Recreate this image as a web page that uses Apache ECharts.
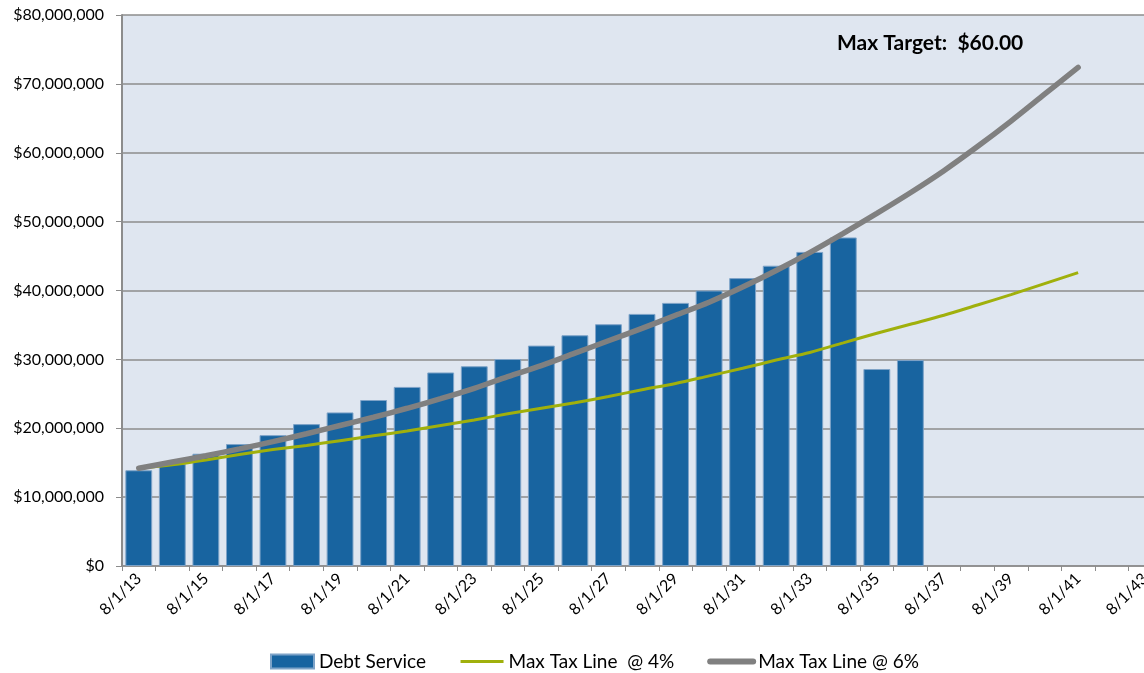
<!DOCTYPE html>
<html>
<head>
<meta charset="UTF-8"/>
<title>Debt Service vs Max Tax Line</title>
<script src="https://cdn.jsdelivr.net/npm/echarts@6/dist/echarts.min.js"></script>
<style>
  html, body { margin: 0; padding: 0; background: #fff; }
  #chart { width: 1144px; height: 673px; }
</style>
</head>
<body>
<div id="chart"></div>
<script>
// fiscal years, 8/1/13 .. 8/1/43
var categories = ['8/1/13','8/1/14','8/1/15','8/1/16','8/1/17','8/1/18','8/1/19','8/1/20',
  '8/1/21','8/1/22','8/1/23','8/1/24','8/1/25','8/1/26','8/1/27','8/1/28','8/1/29','8/1/30',
  '8/1/31','8/1/32','8/1/33','8/1/34','8/1/35','8/1/36','8/1/37','8/1/38','8/1/39','8/1/40',
  '8/1/41','8/1/42','8/1/43'];

// values in millions of dollars
var debtService = [13.9, 14.8, 16.3, 17.7, 19.0, 20.6, 22.3, 24.1, 26.0, 28.1, 29.0, 30.05,
  32.0, 33.5, 35.1, 36.6, 38.2, 40.0, 41.8, 43.6, 45.6, 47.7, 28.6, 29.9];

var maxTax4 = [14.2, 14.7, 15.4, 16.2, 16.9, 17.5, 18.2, 18.9, 19.6, 20.4, 21.2, 22.1, 22.9,
  23.7, 24.6, 25.6, 26.5, 27.6, 28.7, 29.9, 31.0, 32.4, 33.8, 35.1, 36.4, 37.9, 39.4, 41.0, 42.6];

var maxTax6 = [14.2, 15.1, 16.0, 17.0, 18.05, 19.2, 20.4, 21.6, 22.9, 24.3, 25.8, 27.5, 29.1,
  30.9, 32.7, 34.5, 36.4, 38.3, 40.5, 42.9, 45.5, 48.3, 51.2, 54.2, 57.4, 60.9, 64.6, 68.5, 72.4];

var toDollars = function (arr) {
    return arr.map(function (v) { return Math.round(v * 1e6); });
};

var fontFam = 'Lato, "Open Sans", sans-serif';

var myChart = echarts.init(document.getElementById('chart'));

var option = {
    backgroundColor: '#ffffff',
    animation: false,
    textStyle: { fontFamily: fontFam },
    title: {
        text: 'Max Target:  $60.00',
        left: 837,
        top: 33,
        padding: 0,
        textStyle: { fontSize: 21, fontWeight: 'bold', color: '#000', fontFamily: fontFam }
    },
    grid: {
        left: 122,
        top: 15,
        width: 1040,
        height: 551,
        outerBoundsMode: 'none',
        show: true,
        backgroundColor: '#dfe6f0',
        borderWidth: 0
    },
    legend: {
        top: 647,
        left: 265,
        itemWidth: 43,
        itemHeight: 14,
        itemGap: 33,
        textStyle: { fontSize: 19, color: '#000', fontFamily: fontFam },
        data: [
            { name: 'Debt Service', icon: 'rect' },
            {
                name: 'Max Tax Line  @ 4%',
                itemStyle: { opacity: 0 },
                lineStyle: { width: 3 }
            },
            {
                name: 'Max Tax Line @ 6%',
                itemStyle: { opacity: 0 },
                lineStyle: { width: 6, cap: 'round' }
            }
        ]
    },
    xAxis: {
        type: 'category',
        data: categories,
        boundaryGap: true,
        axisLine: { lineStyle: { color: '#8c8c8c', width: 1.5 } },
        axisTick: { show: true, length: 5, interval: 0, lineStyle: { color: '#8c8c8c' } },
        axisLabel: {
            interval: 1,
            rotate: 45,
            fontSize: 16,
            color: '#000',
            margin: 10
        },
        splitLine: { show: false }
    },
    yAxis: {
        type: 'value',
        min: 0,
        max: 80000000,
        interval: 10000000,
        axisLine: { show: true, lineStyle: { color: '#8c8c8c', width: 2 } },
        axisTick: { show: true, length: 6, inside: false, lineStyle: { color: '#8c8c8c' } },
        axisLabel: {
            fontSize: 16,
            color: '#000',
            margin: 18,
            formatter: function (v) {
                return '$' + v.toLocaleString('en-US');
            }
        },
        splitLine: { show: true, lineStyle: { color: '#8c8c8c', width: 1.5 } }
    },
    series: [
        {
            name: 'Debt Service',
            type: 'bar',
            data: toDollars(debtService),
            barCategoryGap: '20%',
            itemStyle: {
                color: '#1864a0',
                borderColor: '#7ea3c8',
                borderWidth: 1
            },
            z: 2
        },
        {
            name: 'Max Tax Line  @ 4%',
            type: 'line',
            data: toDollars(maxTax4),
            smooth: 0.3,
            symbol: 'none',
            lineStyle: { color: '#a0b00c', width: 3 },
            itemStyle: { color: '#a0b00c' },
            z: 3
        },
        {
            name: 'Max Tax Line @ 6%',
            type: 'line',
            data: toDollars(maxTax6),
            smooth: 0.3,
            symbol: 'none',
            lineStyle: { color: '#808080', width: 5.5, cap: 'round' },
            itemStyle: { color: '#808080' },
            z: 4
        }
    ]
};

myChart.setOption(option, true);
</script>
</body>
</html>
